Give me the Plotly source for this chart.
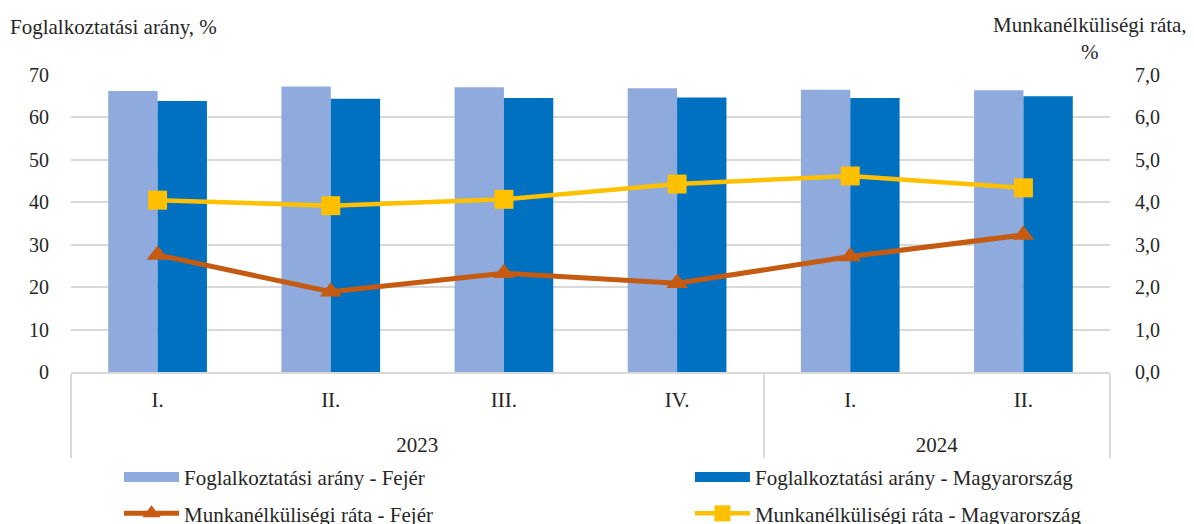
import plotly.graph_objects as go

years = ["2023", "2023", "2023", "2023", "2024", "2024"]
quarters = ["I.", "II.", "III.", "IV.", "I.", "II."]

empl_fejer = [66.2, 67.3, 67.1, 66.9, 66.5, 66.4]
empl_hu = [63.9, 64.4, 64.6, 64.7, 64.6, 65.0]
unemp_fejer = [2.76, 1.89, 2.33, 2.09, 2.72, 3.23]
unemp_hu = [4.05, 3.92, 4.07, 4.43, 4.62, 4.34]

left_ticks = [0, 10, 20, 30, 40, 50, 60, 70]
right_ticks = [0, 1, 2, 3, 4, 5, 6, 7]

FONT = "Liberation Serif"
TXT = "#262626"
GRID = "#d9d9d9"
C_LIGHT, C_DARK, C_ORANGE, C_YELLOW = "#8FAADC", "#0070C0", "#C55A11", "#FFC000"

x = [["<br>" + y for y in years], quarters]
no_vals = [None] * len(quarters)

fig = go.Figure()
fig.add_trace(go.Bar(x=x, y=empl_fejer, name="Foglalkoztatási arány - Fejér",
                     showlegend=False, marker=dict(color=C_LIGHT, line=dict(width=0))))
fig.add_trace(go.Bar(x=x, y=empl_hu, name="Foglalkoztatási arány - Magyarország",
                     showlegend=False, marker=dict(color=C_DARK, line=dict(width=0))))
# legend swatches for the bars (wide rectangles like the original)
fig.add_trace(go.Scatter(x=x, y=no_vals, name="Foglalkoztatási arány - Fejér", yaxis="y2",
                         mode="lines", legend="legend", legendgroup="a",
                         line=dict(color=C_LIGHT, width=14), hoverinfo="skip"))
fig.add_trace(go.Scatter(x=x, y=no_vals, name="Foglalkoztatási arány - Magyarország", yaxis="y2",
                         mode="lines", legend="legend2", legendgroup="b",
                         line=dict(color=C_DARK, width=14), hoverinfo="skip"))
fig.add_trace(go.Scatter(x=x, y=unemp_fejer, name="Munkanélküliségi ráta - Fejér",
                         yaxis="y2", mode="lines+markers", legend="legend", legendgroup="c",
                         line=dict(color=C_ORANGE, width=5),
                         marker=dict(symbol="triangle-up", size=19, color=C_ORANGE)))
fig.add_trace(go.Scatter(x=x, y=unemp_hu, name="Munkanélküliségi ráta - Magyarország",
                         yaxis="y2", mode="lines+markers", legend="legend2", legendgroup="d",
                         line=dict(color=C_YELLOW, width=4.5),
                         marker=dict(symbol="square", size=19, color=C_YELLOW)))

legend_common = dict(orientation="v", xref="container", yref="container",
                     xanchor="left", yanchor="top", tracegroupgap=6, itemwidth=55,
                     font=dict(family=FONT, size=21, color=TXT), bgcolor="rgba(0,0,0,0)")

W, H = 1186, 516
fig.update_layout(
    width=W, height=H,
    margin=dict(l=63, r=84, t=67, b=152, autoexpand=False),
    paper_bgcolor="white", plot_bgcolor="white",
    font=dict(family=FONT, size=21, color=TXT),
    separators=", ",
    barmode="group", bargap=0.43, bargroupgap=0,
    showlegend=True,
    legend=dict(x=0.0936, y=0.13, **legend_common),
    legend2=dict(x=0.575, y=0.13, **legend_common),
    xaxis=dict(type="multicategory", showgrid=False, showline=True,
               linecolor=GRID, linewidth=1.5, ticks="", automargin=False,
               ticklabelstandoff=8,
               showdividers=True, dividercolor=GRID, dividerwidth=1.5,
               tickfont=dict(family=FONT, size=21, color=TXT)),
    yaxis=dict(range=[0, 70], tickvals=left_ticks, showgrid=True, gridcolor=GRID,
               gridwidth=1.5, zeroline=False, ticks="", showline=False, automargin=False,
               ticklabelstandoff=21,
               tickfont=dict(family=FONT, size=20, color=TXT)),
    yaxis2=dict(range=[0, 7], tickvals=right_ticks, tickformat=".1f", overlaying="y",
                side="right", showgrid=False, zeroline=False, ticks="", automargin=False,
                ticklabelstandoff=24,
                tickfont=dict(family=FONT, size=20, color=TXT)),
    annotations=[
        dict(text="Foglalkoztatási arány, %", xref="paper", yref="paper",
             x=-63 / 1039, y=(364 - 19) / 297, xanchor="left", yanchor="middle",
             showarrow=False, font=dict(family=FONT, size=21, color=TXT)),
        dict(text="Munkanélküliségi ráta,<br>%", xref="paper", yref="paper",
             x=(1181 - 63) / 1039, y=(364 - 30) / 297, xanchor="right", yanchor="middle",
             align="center", showarrow=False, font=dict(family=FONT, size=21, color=TXT)),
    ],
)

fig.write_html("out.html")
